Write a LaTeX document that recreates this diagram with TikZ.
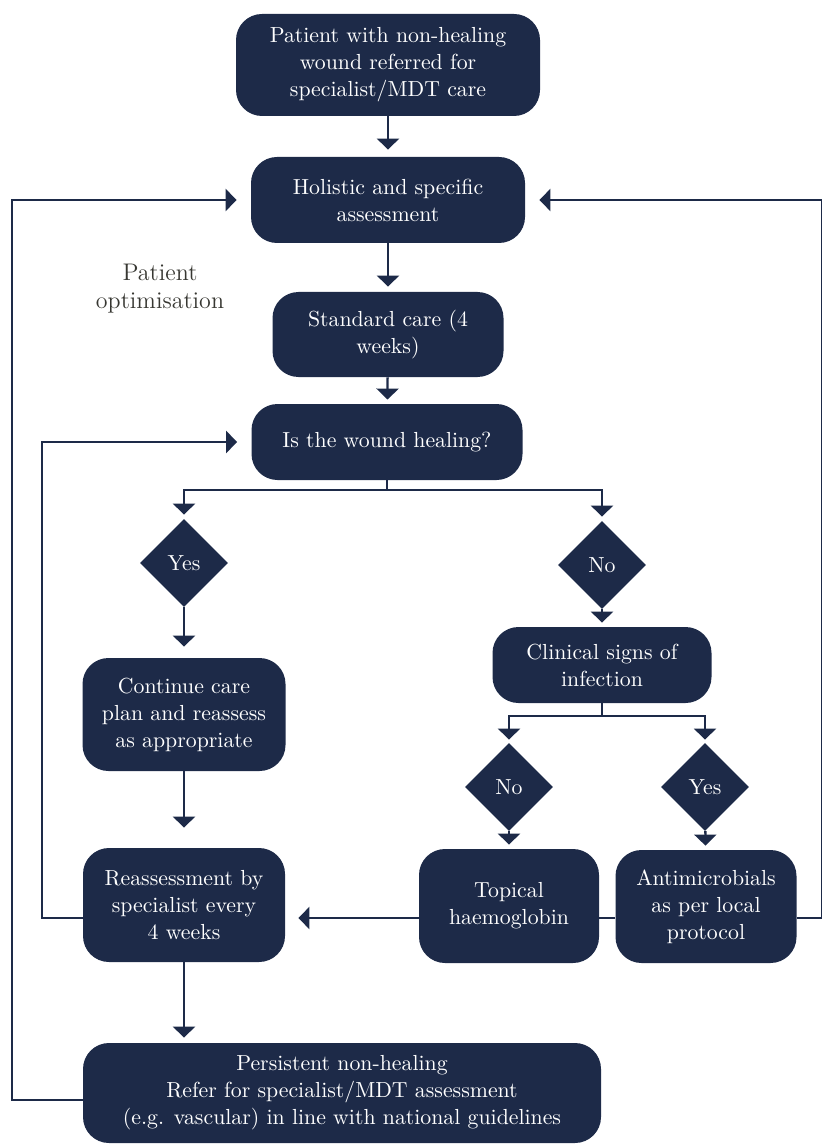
\documentclass[tikz,border=0pt]{standalone}
\usepackage{tikz}
\usepackage{xcolor}
\usetikzlibrary{shapes.geometric,arrows.meta}
\definecolor{navy}{RGB}{29,42,72}
\definecolor{note-grey}{RGB}{55,55,50}
\tikzset{
    dark-box/.style = {fill=navy, text=white, rectangle, rounded corners=13pt, align=center, inner sep=2pt, font=\fontsize{10.9}{13.5}\selectfont},
    dark-diamond/.style = {fill=navy, text=white, diamond, inner sep=0pt, minimum size=44pt, font=\fontsize{10.9}{13.5}\selectfont},
    flow-line/.style = {draw=navy, line width=1.15pt},
    flow-arrow/.style = {flow-line, -{Triangle[width=11pt,length=5.5pt]}},
}
\begin{document}
\begin{tikzpicture}[x=0.5pt,y=-0.5pt]
\useasboundingbox (0,0) rectangle (822,1144);
\node[dark-box, minimum width=152pt, minimum height=51pt] (start) at (388,65) {Patient with non-healing\\wound referred for\\specialist/MDT care};
\node[dark-box, minimum width=137pt, minimum height=43pt] (assess) at (388,200) {Holistic and specific\\assessment};
\node[dark-box, minimum width=115.5pt, minimum height=42.5pt] (standard) at (388,334.5) {Standard care (4\\weeks)};
\node[dark-box, minimum width=135.5pt, minimum height=38pt] (healing) at (387,442) {Is the wound healing?};
\node[dark-diamond] (yes-heal) at (184,563) {Yes};
\node[dark-diamond] (no-heal) at (602,565) {No};
\node[dark-box, minimum width=101.5pt, minimum height=56.5pt] (continue) at (184,714.5) {Continue care\\plan and reassess\\as appropriate};
\node[dark-box, minimum width=109.5pt, minimum height=38pt] (clinical) at (602,665) {Clinical signs of\\infection};
\node[dark-diamond] (no-inf) at (509,787) {No};
\node[dark-diamond] (yes-inf) at (705,787) {Yes};
\node[dark-box, minimum width=90pt, minimum height=57pt] (topical) at (509,906) {Topical\\haemoglobin};
\node[dark-box, minimum width=90.5pt, minimum height=56.5pt] (antimicro) at (706,906.5) {Antimicrobials\\as per local\\protocol};
\node[dark-box, minimum width=101pt, minimum height=57pt] (reassess) at (184,905) {Reassessment by\\specialist every\\4 weeks};
\node[dark-box, minimum width=259pt, minimum height=50pt] (persist) at (342,1093) {Persistent non-healing\\Refer for specialist/MDT assessment\\(e.g. vascular) in line with national guidelines};
\node[text=note-grey, align=center, font=\fontsize{12}{14}\selectfont] (optimisation) at (160,289) {Patient\\optimisation};

\coordinate (split-heal) at (387,490);
\coordinate (split-inf) at (602,716);
\coordinate (row-link) at (0,918);
\coordinate (bottom-link) at (0,1100);
\coordinate (outer-rail) at (12,0);
\coordinate (inner-rail) at (42,0);
\coordinate (right-rail) at (822.5,0);

\draw[flow-arrow, shorten >=3.5pt] (start) -- (assess);
\draw[flow-arrow, shorten >=2.5pt] (assess) -- (standard);
\draw[flow-arrow, shorten >=2pt] (standard) -- (healing);
\draw[flow-line] (healing.south) -- (split-heal);
\draw[flow-arrow, shorten >=2pt] (split-heal) -| (yes-heal);
\draw[flow-arrow, shorten >=2pt] (split-heal) -| (no-heal);
\draw[flow-arrow, shorten >=5.5pt] (yes-heal) -- (continue);
\draw[flow-arrow, shorten >=10pt] (continue) -- (reassess);
\draw[flow-arrow, shorten >=2.5pt] (reassess.south) -- (reassess.south |- persist.north);
\draw[flow-arrow, shorten >=2pt] (no-heal) -- (clinical);
\draw[flow-line] (clinical.south) -- (split-inf);
\draw[flow-arrow, shorten >=1.5pt] (split-inf) -| (no-inf);
\draw[flow-arrow, shorten >=1.5pt] (split-inf) -| (yes-inf);
\draw[flow-arrow, shorten >=2pt] (no-inf) -- (topical);
\draw[flow-arrow, shorten >=2pt] (yes-inf) -- (antimicro);
\draw[flow-arrow, shorten >=6.5pt] (topical.west |- row-link) -- (reassess.east |- row-link);
\draw[flow-line] (antimicro.west |- row-link) -- (topical.east |- row-link);
\draw[flow-arrow, shorten >=7pt] (antimicro.east |- row-link) -- (right-rail |- row-link) |- (assess.east);
\draw[flow-arrow, shorten >=7pt] (reassess.west |- row-link) -- (inner-rail |- row-link) |- (healing.west);
\draw[flow-arrow, shorten >=7pt] (persist.west |- bottom-link) -- (outer-rail |- bottom-link) |- (assess.west);
\end{tikzpicture}
\end{document}
